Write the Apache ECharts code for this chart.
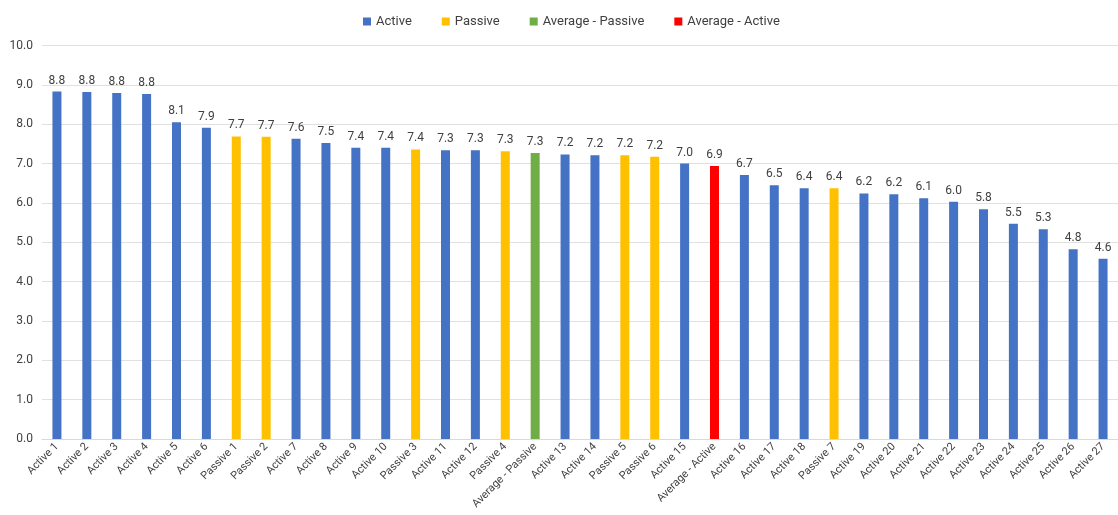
<!DOCTYPE html>
<html>
<head>
<meta charset="utf-8">
<script src="https://cdn.jsdelivr.net/npm/echarts@6/dist/echarts.min.js"></script>
<style>
  html, body { margin: 0; padding: 0; background: #fff; }
  #main { width: 1118px; height: 515px; }
</style>
</head>
<body>
<div id="main"></div>
<script>
var categories = ['Active 1', 'Active 2', 'Active 3', 'Active 4', 'Active 5', 'Active 6', 'Passive 1', 'Passive 2',
  'Active 7', 'Active 8', 'Active 9', 'Active 10', 'Passive 3', 'Active 11', 'Active 12', 'Passive 4',
  'Average - Passive', 'Active 13', 'Active 14', 'Passive 5', 'Passive 6', 'Active 15', 'Average - Active',
  'Active 16', 'Active 17', 'Active 18', 'Passive 7', 'Active 19', 'Active 20', 'Active 21', 'Active 22',
  'Active 23', 'Active 24', 'Active 25', 'Active 26', 'Active 27'];
var values = [8.83, 8.82, 8.79, 8.77, 8.05, 7.91, 7.69, 7.68,
  7.63, 7.52, 7.40, 7.40, 7.36, 7.34, 7.34, 7.31,
  7.27, 7.23, 7.21, 7.21, 7.17, 7.00, 6.94,
  6.71, 6.45, 6.37, 6.37, 6.24, 6.22, 6.12, 6.03,
  5.84, 5.47, 5.33, 4.82, 4.58];
// which legend group each bar belongs to
var groups = ['Active', 'Passive', 'Average - Passive', 'Average - Active'];
var groupOf = [0, 0, 0, 0, 0, 0, 1, 1,
  0, 0, 0, 0, 1, 0, 0, 1,
  2, 0, 0, 1, 1, 0, 3,
  0, 0, 0, 1, 0, 0, 0, 0,
  0, 0, 0, 0, 0];
var colors = ['#4472C4', '#FFC000', '#70AD47', '#FF0000'];
var yTicks = [0, 10, 1];

var font = 'Roboto, sans-serif';
var chart = echarts.init(document.getElementById('main'));

var series = groups.map(function (name, g) {
  return {
    name: name,
    type: 'bar',
    barWidth: 9,
    barGap: '-100%',
    itemStyle: { color: colors[g] },
    label: {
      show: true,
      position: 'top',
      distance: 5,
      color: '#404040',
      fontSize: 12,
      fontFamily: font,
      formatter: function (p) { return p.value.toFixed(1); }
    },
    data: values.map(function (v, i) { return groupOf[i] === g ? v : '-'; })
  };
});

chart.setOption({
  animation: false,
  textStyle: { fontFamily: font },
  legend: {
    top: 10,
    left: 358,
    icon: 'rect',
    itemWidth: 8,
    itemHeight: 8,
    itemGap: 30,
    textStyle: { color: '#404040', fontSize: 13, fontFamily: font },
    data: groups
  },
  grid: { left: 42, top: 45.5, width: 1082, height: 393.5 },
  xAxis: {
    type: 'category',
    data: categories,
    axisLine: { lineStyle: { color: '#d9d9d9' } },
    axisTick: { show: false },
    axisLabel: {
      interval: 0,
      rotate: 45,
      margin: 6,
      color: '#404040',
      fontSize: 11,
      fontFamily: font
    }
  },
  yAxis: {
    type: 'value',
    min: yTicks[0],
    max: yTicks[1],
    interval: yTicks[2],
    axisLine: { show: false },
    axisTick: { show: false },
    splitLine: { lineStyle: { color: '#e0e0e0' } },
    axisLabel: {
      margin: 9,
      color: '#404040',
      fontSize: 12,
      fontFamily: font,
      formatter: function (v) { return v.toFixed(1); }
    }
  },
  series: series
});
</script>
</body>
</html>
